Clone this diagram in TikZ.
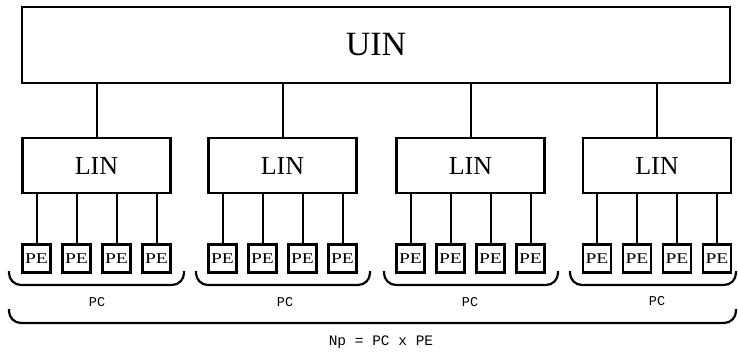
\documentclass[tikz,border=0pt]{standalone}
\usepackage{fontspec}
\setmainfont{Liberation Serif}
\newfontfamily\monof{Liberation Mono}
\begin{document}
\begin{tikzpicture}[x=1pt,y=-1pt,
  box/.style={draw,line width=2.2pt,rectangle,inner sep=0pt},
  uinbox/.style={box,minimum width=708pt,minimum height=76pt,font=\fontsize{34}{34}\selectfont},
  linbox/.style={box,minimum width=148pt,minimum height=55pt,font=\fontsize{26}{26}\selectfont},
  pebox/.style={box,line width=2.2pt,minimum width=28pt,minimum height=28pt,font=\fontsize{15}{15}\selectfont},
  wire/.style={line width=2pt},
  brace/.style={line width=2.2pt,rounded corners=12pt},
  lbl/.style={font=\monof\fontsize{13.5}{13.5}\selectfont,inner sep=0pt}
]
\useasboundingbox (0,0) rectangle (738,355);
\node[uinbox] (uin) at (376,45) {UIN};
\foreach \i/\cx in {1/96.5,2/282.5,3/470.5,4/657}{
  \node[linbox] (lin\i) at (\cx,165.5) {LIN};
  \draw[wire] (uin.south -| lin\i.north) -- (lin\i.north);
  \foreach \k in {1,2,3,4}{
    \node[pebox] (pe\i\k) at ({\cx-74+14+40*(\k-1)},258.5) {\scalebox{1.3}[1]{PE}};
    \draw[wire] (lin\i.south -| pe\i\k.north) -- (pe\i\k.north);
  }
}
% small braces
\foreach \a/\b/\c in {9/184/1,196/370/2,384/558/3,570/736/4}{
  \draw[brace] (\a,271) -- (\a,285) -- (\b,285) -- (\b,271);
}
\node[lbl] (pc1) at (97,302) {PC};
\node[lbl] (pc2) at (285,302) {PC};
\node[lbl] (pc3) at (470,302) {PC};
\node[lbl] (pc4) at (657,301) {PC};
% big brace
\draw[brace] (9,309) -- (9,323) -- (736,323) -- (736,309);
\node[lbl,font=\monof\fontsize{14.5}{14.5}\selectfont] (np) at (381,342) {Np = PC x PE};
\end{tikzpicture}
\end{document}
